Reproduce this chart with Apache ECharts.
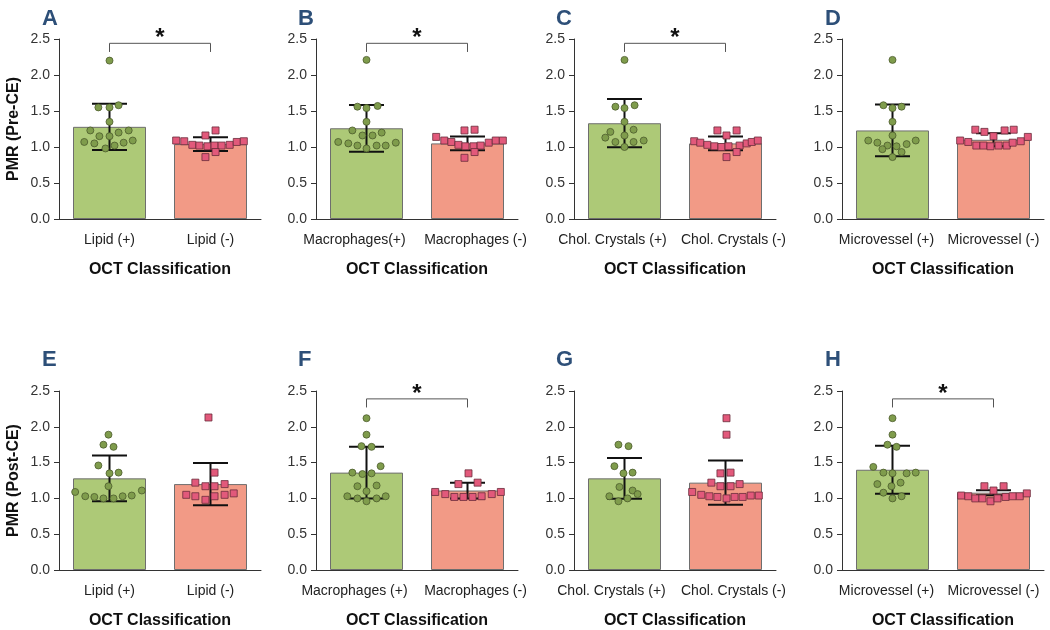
<!DOCTYPE html>
<html><head><meta charset="utf-8">
<script src="https://cdn.jsdelivr.net/npm/echarts@6/dist/echarts.min.js"></script>
<style>html,body{margin:0;padding:0;background:#fff}#c{width:1050px;height:630px}</style>
</head><body><div id="c"></div>
<script>
// ---------------- DATA ----------------
const panelLetters = ['A', 'B', 'C', 'D', 'E', 'F', 'G', 'H'];
const categories = [
  ['Lipid (+)', 'Lipid (-)'],
  ['Macrophages(+)', 'Macrophages (-)'],
  ['Chol. Crystals (+)', 'Chol. Crystals (-)'],
  ['Microvessel (+)', 'Microvessel (-)'],
  ['Lipid (+)', 'Lipid (-)'],
  ['Macrophages (+)', 'Macrophages (-)'],
  ['Chol. Crystals (+)', 'Chol. Crystals (-)'],
  ['Microvessel (+)', 'Microvessel (-)']
];
const yAxisNames = ['PMR (Pre-CE)', 'PMR (Post-CE)'];
const xAxisName = 'OCT Classification';
const yTickValues = [0, 0.5, 1.0, 1.5, 2.0, 2.5];

const means = [
  [1.28, 1.04], [1.26, 1.05], [1.33, 1.05], [1.23, 1.10],
  [1.28, 1.20], [1.36, 1.11], [1.28, 1.22], [1.40, 1.08]
];
const sds = [
  [0.32, 0.095], [0.325, 0.095], [0.335, 0.095], [0.36, 0.09],
  [0.32, 0.295], [0.36, 0.11], [0.285, 0.31], [0.335, 0.035]
];
const significant = [true, true, true, false, false, true, false, true];

// individual points: [jitter (category units), value]
const posPoints = [
  [[0,2.20],[-0.11,1.55],[0,1.55],[0.09,1.58],[0,1.35],[-0.19,1.23],[0.09,1.20],[0.19,1.23],[-0.10,1.15],[0,1.15],[-0.25,1.07],[-0.15,1.05],[0.05,1.02],[0.14,1.06],[0.23,1.09],[-0.04,0.98]],
  [[0,2.21],[-0.09,1.56],[0,1.54],[0.11,1.57],[0,1.35],[-0.14,1.23],[-0.04,1.16],[0.06,1.16],[0.15,1.20],[-0.28,1.07],[-0.18,1.05],[-0.09,1.02],[0,0.98],[0.10,1.02],[0.19,1.02],[0.29,1.06]],
  [[0,2.21],[-0.09,1.56],[0,1.54],[0.10,1.58],[0,1.35],[-0.14,1.21],[0.09,1.24],[-0.19,1.13],[-0.09,1.07],[0,1.16],[0.19,1.09],[0.09,1.07],[0,1.00]],
  [[0,2.21],[-0.09,1.58],[0,1.54],[0.09,1.56],[0,1.35],[0,1.16],[-0.24,1.09],[-0.15,1.06],[-0.05,1.02],[0.04,1.01],[-0.10,0.97],[0.14,1.04],[0.23,1.09],[0.09,0.93],[0,0.86]],
  [[-0.01,1.89],[-0.06,1.75],[0.04,1.72],[-0.11,1.46],[0,1.35],[0.09,1.36],[-0.01,1.17],[-0.34,1.09],[-0.24,1.03],[-0.15,1.02],[-0.06,1.00],[0.04,1.00],[0.13,1.03],[0.22,1.04],[0.32,1.11]],
  [[0,2.12],[0,1.89],[-0.05,1.73],[0.05,1.72],[0.14,1.45],[-0.14,1.36],[-0.04,1.34],[0.05,1.35],[-0.09,1.17],[0.10,1.18],[0,1.10],[-0.19,1.03],[-0.09,1.00],[0,0.96],[0.10,1.00],[0.19,1.03]],
  [[-0.06,1.75],[0.04,1.73],[-0.10,1.45],[-0.01,1.35],[0.08,1.36],[-0.05,1.16],[0.08,1.11],[0.13,1.06],[-0.15,1.03],[-0.06,0.96],[0.03,1.00]],
  [[0,2.12],[0,1.89],[-0.05,1.75],[0.04,1.72],[-0.19,1.44],[-0.09,1.36],[0,1.35],[0.14,1.35],[0.23,1.36],[-0.15,1.20],[-0.01,1.17],[0.08,1.22],[-0.09,1.08],[0,1.00],[0.09,1.03]]
];
const negPoints = [
  [[0.05,1.23],[-0.05,1.16],[-0.34,1.09],[-0.26,1.08],[-0.18,1.03],[-0.11,1.02],[-0.03,1.01],[0.04,1.02],[0.11,1.02],[0.19,1.03],[0.26,1.07],[0.33,1.08],[-0.05,0.86],[0.05,0.93]],
  [[-0.03,1.23],[0.07,1.24],[-0.31,1.14],[-0.23,1.09],[-0.16,1.07],[-0.09,1.03],[-0.02,1.01],[0.06,1.01],[0.13,1.02],[0.21,1.06],[0.28,1.09],[0.35,1.09],[-0.03,0.85],[0.07,0.93]],
  [[-0.08,1.23],[0.11,1.23],[0.01,1.16],[-0.31,1.08],[-0.25,1.06],[-0.18,1.03],[-0.11,1.01],[-0.04,1.00],[0.03,1.01],[0.14,1.02],[0.21,1.05],[0.26,1.07],[0.32,1.09],[0.01,0.86],[0.11,0.93]],
  [[-0.18,1.24],[-0.09,1.21],[0.11,1.23],[0.20,1.24],[0,1.15],[-0.33,1.09],[-0.25,1.07],[-0.17,1.02],[-0.10,1.02],[-0.03,1.01],[0.05,1.02],[0.13,1.02],[0.19,1.06],[0.27,1.08],[0.34,1.14]],
  [[-0.02,2.13],[0.04,1.36],[-0.15,1.22],[-0.05,1.17],[0.04,1.17],[0.14,1.20],[-0.24,1.05],[-0.15,1.03],[-0.05,0.98],[0.04,1.03],[0.14,1.05],[0.23,1.07]],
  [[0.01,1.35],[-0.09,1.20],[0.10,1.22],[-0.32,1.09],[-0.22,1.06],[-0.13,1.02],[-0.04,1.02],[0.05,1.02],[0.14,1.03],[0.24,1.06],[0.33,1.09]],
  [[0.01,2.12],[0.01,1.89],[-0.05,1.35],[0.05,1.36],[-0.14,1.22],[-0.05,1.17],[0.05,1.17],[0.14,1.20],[-0.33,1.09],[-0.24,1.05],[-0.16,1.03],[-0.08,1.02],[0.01,1.00],[0.09,1.02],[0.17,1.02],[0.25,1.04],[0.33,1.04]],
  [[-0.09,1.17],[0.10,1.17],[0,1.11],[-0.32,1.04],[-0.25,1.03],[-0.18,1.00],[-0.11,1.00],[-0.03,0.96],[0.04,1.00],[0.12,1.02],[0.19,1.03],[0.26,1.03],[0.33,1.07]]
];

// ---------------- LAYOUT / STYLE ----------------
const FONT = '"Liberation Sans", Arial, Helvetica, sans-serif';
const gridLefts = [59, 316, 574, 842];
const gridWidth = 202;
const gridTops = [39, 391];
const gridHeight = 180;
const letterX = [42, 298, 556, 825];
const letterY = [17, 358];
const bracketLevel = [2.44, 2.39];
const bracketDrop = 0.12;
// horizontal nudge (px) of category labels to keep long labels apart
const labelShift = [[0, 0], [-12, 8], [-12, 8], [-6, 0], [0, 0], [-12, 8], [-13, 8], [-6, 0]];

const GREEN_BAR = '#adc977';
const RED_BAR = '#f29a86';
const BAR_BORDER = '#6e6e6e';
const GREEN_DOT = '#7f9c4c';
const GREEN_DOT_BORDER = '#4b5b2c';
const RED_DOT = '#e2597b';
const RED_DOT_BORDER = '#6a2c3b';

const grid = [], xAxis = [], yAxis = [], series = [], graphic = [];

function shiftStyle(s) {
  const base = { fontSize: 14, color: '#222', fontFamily: FONT };
  if (s < 0) base.padding = [0, -2 * s, 0, 0];
  else if (s > 0) base.padding = [0, 0, 0, 2 * s];
  return base;
}

for (let i = 0; i < 8; i++) {
  const row = Math.floor(i / 4), col = i % 4;
  const sh = labelShift[i];
  grid.push({ left: gridLefts[col], top: gridTops[row], width: gridWidth, height: gridHeight, containLabel: false });
  xAxis.push({
    type: 'category', gridIndex: i, data: categories[i],
    axisLine: { onZero: false, lineStyle: { color: '#333', width: 1 } },
    axisTick: { alignWithLabel: true, length: 5, lineStyle: { color: '#333' } },
    axisLabel: {
      color: '#222', fontSize: 14, margin: 14, fontFamily: FONT, interval: 0,
      formatter: (val, idx) => '{s' + idx + '|' + val + '}',
      rich: { s0: shiftStyle(sh[0]), s1: shiftStyle(sh[1]) }
    },
    name: xAxisName, nameLocation: 'middle', nameGap: 43,
    nameTextStyle: { fontSize: 16, fontWeight: 'bold', color: '#111', fontFamily: FONT },
    splitLine: { show: false }
  });
  xAxis.push({ type: 'value', gridIndex: i, min: -0.5, max: 1.5, show: false, splitLine: { show: false } });
  yAxis.push({
    type: 'value', gridIndex: i, min: yTickValues[0], max: yTickValues[yTickValues.length - 1], interval: 0.5,
    axisLine: { show: true, onZero: false, lineStyle: { color: '#333', width: 1 } },
    axisTick: { show: true, length: 5, lineStyle: { color: '#333' } },
    axisLabel: { color: '#333', fontSize: 14, margin: 9, fontFamily: FONT, formatter: v => v.toFixed(1) },
    splitLine: { show: false },
    name: col === 0 ? yAxisNames[row] : '', nameLocation: 'middle', nameGap: 37,
    nameTextStyle: { fontSize: 16, fontWeight: 'bold', color: '#111', fontFamily: FONT }
  });

  // bars
  series.push({
    type: 'bar', xAxisIndex: 2 * i, yAxisIndex: i, barWidth: 73, z: 2,
    data: [
      { value: means[i][0], itemStyle: { color: GREEN_BAR, borderColor: BAR_BORDER, borderWidth: 1 } },
      { value: means[i][1], itemStyle: { color: RED_BAR, borderColor: BAR_BORDER, borderWidth: 1 } }
    ],
    silent: true
  });
  // error bars (mean ± SD)
  series.push({
    type: 'custom', xAxisIndex: 2 * i + 1, yAxisIndex: i, z: 4, silent: true,
    data: [[0, means[i][0], sds[i][0]], [1, means[i][1], sds[i][1]]],
    renderItem: (params, api) => {
      const x = api.value(0), m = api.value(1), s = api.value(2);
      const hi = api.coord([x, m + s]), lo = api.coord([x, m - s]);
      const hw = 17.5;
      const st = { stroke: '#111', lineWidth: 2, fill: null };
      return { type: 'group', children: [
        { type: 'line', shape: { x1: hi[0], y1: hi[1], x2: lo[0], y2: lo[1] }, style: st },
        { type: 'line', shape: { x1: hi[0] - hw, y1: hi[1], x2: hi[0] + hw, y2: hi[1] }, style: st },
        { type: 'line', shape: { x1: lo[0] - hw, y1: lo[1], x2: lo[0] + hw, y2: lo[1] }, style: st }
      ] };
    }
  });
  // individual points
  series.push({
    type: 'scatter', xAxisIndex: 2 * i + 1, yAxisIndex: i, z: 5, silent: true,
    symbol: 'circle', symbolSize: 7,
    itemStyle: { color: GREEN_DOT, borderColor: GREEN_DOT_BORDER, borderWidth: 0.8, opacity: 1 },
    data: posPoints[i].map(p => [0 + p[0], p[1]])
  });
  series.push({
    type: 'scatter', xAxisIndex: 2 * i + 1, yAxisIndex: i, z: 5, silent: true,
    symbol: 'rect', symbolSize: 7,
    itemStyle: { color: RED_DOT, borderColor: RED_DOT_BORDER, borderWidth: 0.8, opacity: 1 },
    data: negPoints[i].map(p => [1 + p[0], p[1]])
  });
  // significance bracket
  if (significant[i]) {
    const lvl = bracketLevel[row];
    series.push({
      type: 'custom', xAxisIndex: 2 * i + 1, yAxisIndex: i, z: 6, silent: true, clip: false,
      data: [[0, 1, lvl]],
      renderItem: (params, api) => {
        const a = api.coord([api.value(0), api.value(2)]);
        const b = api.coord([api.value(1), api.value(2)]);
        const a2 = api.coord([api.value(0), api.value(2) - bracketDrop]);
        const st = { stroke: '#555', lineWidth: 1, fill: null };
        return { type: 'group', children: [
          { type: 'polyline', shape: { points: [[a2[0], a2[1]], [a[0], a[1]], [b[0], b[1]], [b[0], a2[1]]] }, style: st },
          { type: 'text', style: { x: (a[0] + b[0]) / 2, y: a[1] - 5, text: '*', font: 'bold 24px ' + FONT, fill: '#111', align: 'center', verticalAlign: 'middle' } }
        ] };
      }
    });
  }
  graphic.push({
    type: 'text', left: letterX[col], top: letterY[row] - 9,
    style: { text: panelLetters[i], font: 'bold 22px ' + FONT, fill: '#2d4f78' }
  });
}

const chart = echarts.init(document.getElementById('c'), null, { renderer: 'canvas' });
chart.setOption({
  backgroundColor: '#ffffff',
  animation: false,
  textStyle: { fontFamily: FONT },
  grid, xAxis, yAxis, series, graphic
});
</script>
</body></html>
